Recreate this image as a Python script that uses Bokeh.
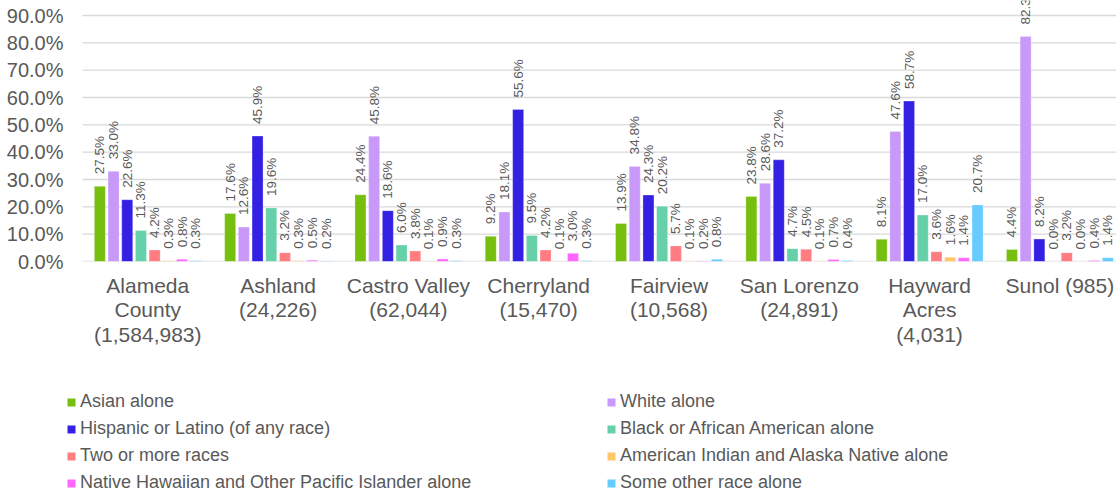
import math
from bokeh.plotting import figure
from bokeh.layouts import column
from bokeh.models import (ColumnDataSource, FixedTicker, PrintfTickFormatter, Legend, LegendItem, Range1d)
from bokeh.core.properties import value
from bokeh.embed import file_html
from bokeh.resources import INLINE

categories = ["Alameda\nCounty\n(1,584,983)", "Ashland\n(24,226)", "Castro Valley\n(62,044)",
              "Cherryland\n(15,470)", "Fairview\n(10,568)", "San Lorenzo\n(24,891)",
              "Hayward\nAcres\n(4,031)", "Sunol (985)"]

series_names = ["Asian alone", "White alone", "Hispanic or Latino (of any race)",
                "Black or African American alone", "Two or more races",
                "American Indian and Alaska Native alone",
                "Native Hawaiian and Other Pacific Islander alone", "Some other race alone"]

asian        = [27.5, 17.6, 24.4, 9.2, 13.9, 23.8, 8.1, 4.4]
white        = [33.0, 12.6, 45.8, 18.1, 34.8, 28.6, 47.6, 82.3]
hispanic     = [22.6, 45.9, 18.6, 55.6, 24.3, 37.2, 58.7, 8.2]
black        = [11.3, 19.6, 6.0, 9.5, 20.2, 4.7, 17.0, 0.0]
two_more     = [4.2, 3.2, 3.8, 4.2, 5.7, 4.5, 3.6, 3.2]
am_indian    = [0.3, 0.3, 0.1, 0.1, 0.1, 0.1, 1.6, 0.0]
nat_hawaiian = [0.8, 0.5, 0.9, 3.0, 0.2, 0.7, 1.4, 0.4]
other        = [0.3, 0.2, 0.3, 0.3, 0.8, 0.4, 20.7, 1.4]

series_values = [asian, white, hispanic, black, two_more, am_indian, nat_hawaiian, other]
colors = ["#77BF0F", "#C999FA", "#3320E3", "#66D0A8", "#FF7C80", "#FFC766", "#FF66FF", "#66CCFF"]

y_ticks = [0, 10, 20, 30, 40, 50, 60, 70, 80, 90]

FONT = "Liberation Sans"
GRAY = "#595959"
GRID = "#D9D9D9"
W = 1116
LEFT = 66                 # frame left (px); the legend canvas aligns here too
H_MAIN = 391
FRAME_H = 261
GROUP_PX = 130.3
FIRST_CENTER = 147.3
FRAME_W = W - LEFT
x_start = -(FIRST_CENTER - LEFT) / GROUP_PX
x_end = x_start + FRAME_W / GROUP_PX
grid_x0 = x_start + 16 / GROUP_PX   # gridlines begin a little right of the frame edge
PX_PER_PCT = 246.0 / 90.0

p = figure(width=W, height=H_MAIN, output_backend="svg", toolbar_location=None,
           x_range=Range1d(x_start, x_end),
           y_range=Range1d(0, FRAME_H / PX_PER_PCT),
           min_border_left=LEFT, min_border_right=0, min_border_top=0,
           min_border_bottom=H_MAIN - FRAME_H)
p.outline_line_color = None
p.grid.grid_line_color = None

# horizontal gridlines at the y ticks
p.segment(x0=[grid_x0] * len(y_ticks), x1=[x_end] * len(y_ticks), y0=y_ticks, y1=y_ticks,
          line_color=GRID, line_width=[1.6] + [1.3] * (len(y_ticks) - 1), level="underlay")

stride = 13.7 / GROUP_PX
bw = 11.0 / GROUP_PX
n = len(series_values)
for j, (vals, col) in enumerate(zip(series_values, colors)):
    xs = [i + (j - (n - 1) / 2) * stride for i in range(len(categories))]
    src = ColumnDataSource(dict(x=xs, top=vals, label=[f"{v:.1f}%" for v in vals]))
    p.vbar(x="x", top="top", width=bw, source=src, fill_color=col,
           line_color="white", line_alpha=0.35, line_width=0.8)
    p.text(x="x", y="top", text="label", source=src, angle=math.pi / 2,
           text_align="left", text_baseline="middle", y_offset=-12,
           text_font=value(FONT), text_font_size="13.5px", text_color=GRAY)

# axes
p.yaxis.ticker = FixedTicker(ticks=y_ticks)
p.yaxis.formatter = PrintfTickFormatter(format="%.1f%%")
p.yaxis.axis_line_color = None
p.yaxis.major_tick_line_color = None
p.yaxis.minor_tick_line_color = None
p.yaxis.major_tick_out = 0
p.yaxis.major_tick_in = 0
p.yaxis.major_label_standoff = 3
p.yaxis.major_label_text_font = FONT
p.yaxis.major_label_text_font_size = "20px"
p.yaxis.major_label_text_color = GRAY

p.xaxis.ticker = FixedTicker(ticks=list(range(len(categories))))
p.xaxis.major_label_overrides = {i: c for i, c in enumerate(categories)}
p.xaxis.axis_line_color = None
p.xaxis.major_tick_line_color = None
p.xaxis.minor_tick_line_color = None
p.xaxis.major_tick_out = 0
p.xaxis.major_tick_in = 0
p.xaxis.major_label_standoff = 12
p.xaxis.major_label_text_font = FONT
p.xaxis.major_label_text_font_size = "21px"
p.xaxis.major_label_text_line_height = 1.07
p.xaxis.major_label_text_color = GRAY

# legend canvas below the chart
H_LEG = 102
lg = figure(width=W, height=H_LEG, output_backend="svg", toolbar_location=None,
            x_range=Range1d(0, 1), y_range=Range1d(0, 1),
            min_border_left=LEFT, min_border_right=0, min_border_top=0, min_border_bottom=0)
lg.axis.visible = False
lg.grid.visible = False
lg.outline_line_color = None
items = []
for name, col in zip(series_names, colors):
    r = lg.vbar(x=[0.5], top=[0], bottom=[0], width=0.0, fill_color=col, line_color=None)
    items.append(LegendItem(label=name, renderers=[r]))

legend = Legend(items=items, location=(0, 0), orientation="horizontal", ncols=2,
                glyph_width=10, glyph_height=10, label_standoff=4, label_width=520,
                label_height=21, spacing=6, padding=0, margin=0,
                border_line_alpha=0, background_fill_alpha=0,
                label_text_font=FONT, label_text_font_size="18px", label_text_color=GRAY,
                label_text_baseline="middle")
lg.add_layout(legend, "center")

layout = column(p, lg, spacing=0)
open("out.html", "w").write(file_html(layout, INLINE))
